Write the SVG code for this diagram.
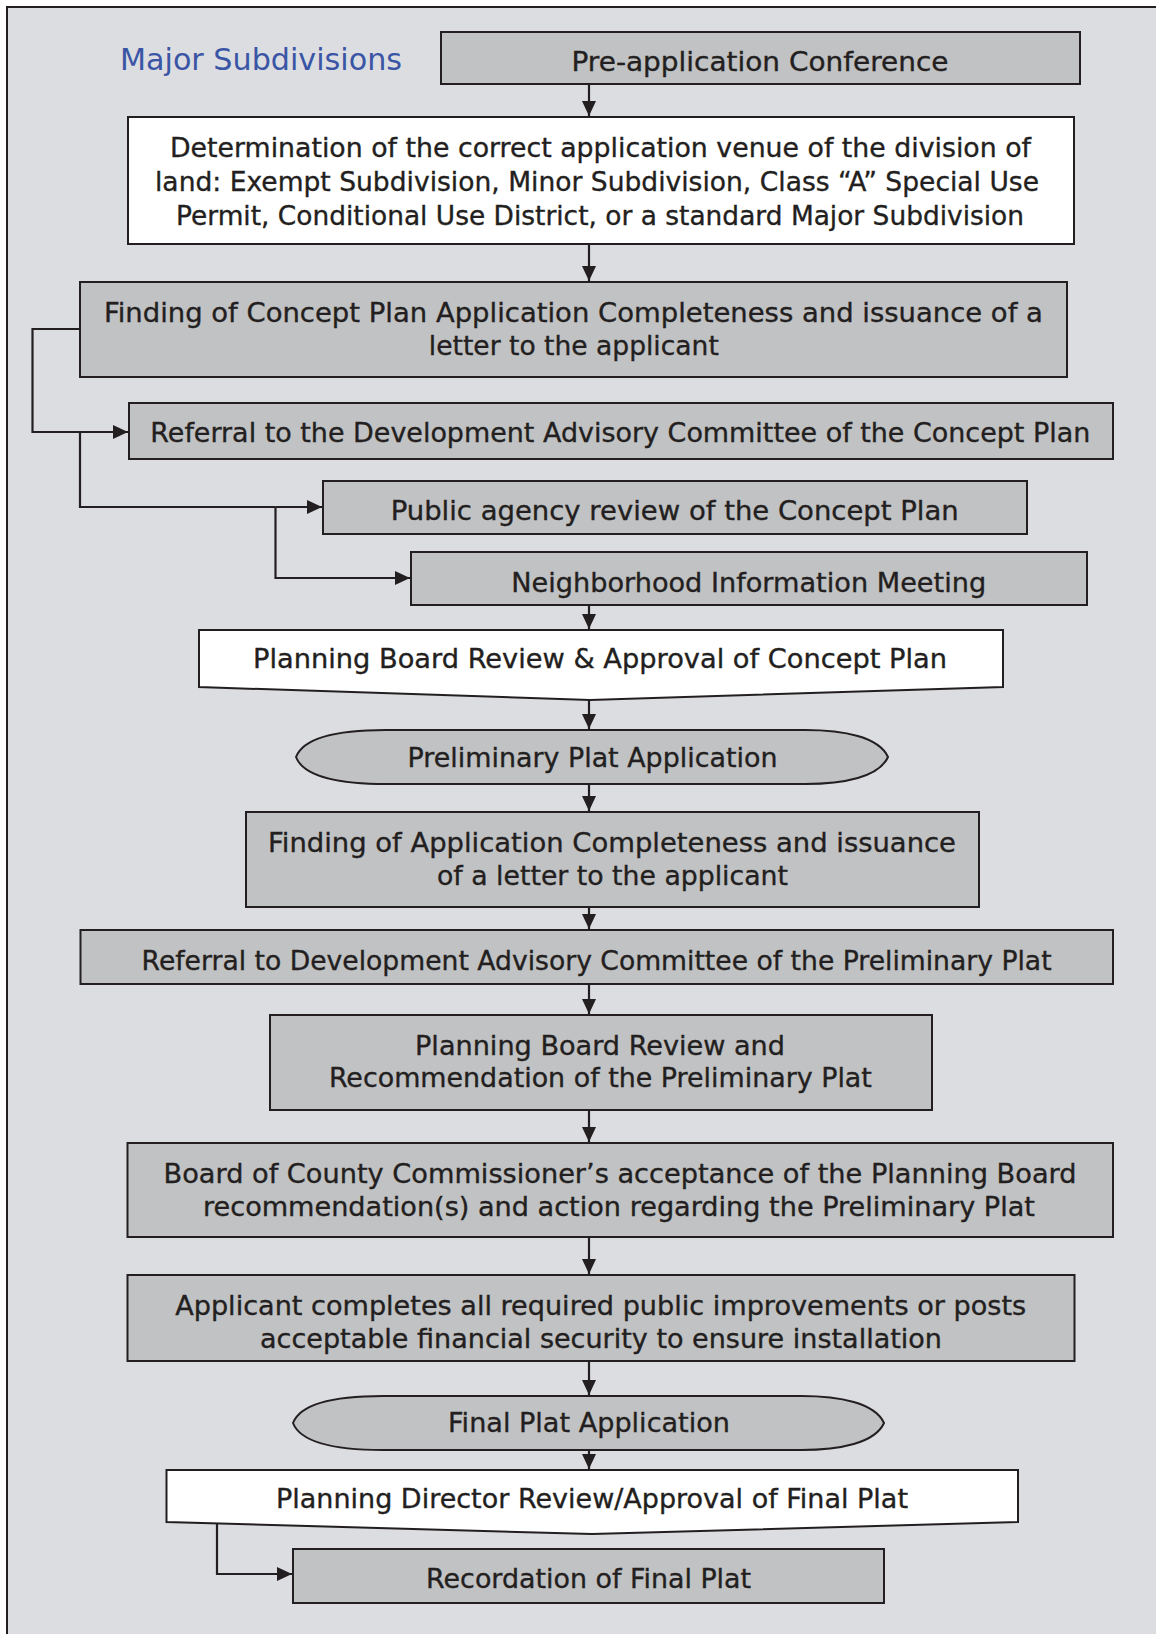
<svg xmlns="http://www.w3.org/2000/svg" width="1156" height="1634" viewBox="0 0 1156 1634">
<defs>
<marker id="ah" markerUnits="userSpaceOnUse" markerWidth="16" markerHeight="14" refX="15" refY="7" orient="auto">
<path d="M0,0 L15,7 L0,14 Z" fill="#231f20"/>
</marker>
<style>
.box{fill:#c1c2c4;stroke:#231f20;stroke-width:2}
.wbox{fill:#ffffff;stroke:#231f20;stroke-width:2}
.t{font-family:"DejaVu Sans","Liberation Sans",sans-serif;font-size:26px;fill:#231f20;stroke:#231f20;stroke-width:0.35;text-anchor:middle}
.title{font-family:"DejaVu Sans","Liberation Sans",sans-serif;font-size:30px;fill:#3a55a5}
.c{fill:none;stroke:#231f20;stroke-width:2.2}
.ca{fill:none;stroke:#231f20;stroke-width:2.2;marker-end:url(#ah)}
</style>
</defs>
<rect x="0" y="0" width="1156" height="1634" fill="#ffffff"/>
<rect x="7" y="7" width="1200" height="1700" fill="#dcdde0" stroke="#231f20" stroke-width="2"/>
<text class="title" x="120" y="70" textLength="282" lengthAdjust="spacingAndGlyphs">Major Subdivisions</text>

<g id="connectors">
<path class="ca" d="M589,84 V116"/>
<path class="ca" d="M589,244 V281"/>
<path class="c" d="M80,329 H32.5 V432 H80"/>
<path class="ca" d="M80,432 H128"/>
<path class="c" d="M80,432 V507 H275.5"/>
<path class="ca" d="M275.5,507 H322"/>
<path class="ca" d="M275.5,507 V578 H410"/>
<path class="ca" d="M589,605 V629"/>
<path class="ca" d="M589,700 V729"/>
<path class="ca" d="M589,784 V811"/>
<path class="ca" d="M589,907 V929"/>
<path class="ca" d="M589,984 V1014"/>
<path class="ca" d="M589,1110 V1142"/>
<path class="ca" d="M589,1237 V1274"/>
<path class="ca" d="M589,1361 V1395"/>
<path class="ca" d="M589,1450 V1469"/>
<path class="ca" d="M217,1523 V1574 H292"/>
</g>

<g id="pre-application">
<rect class="box" x="441" y="32" width="639" height="52"/>
<text class="t" x="760" y="71" textLength="377" lengthAdjust="spacingAndGlyphs">Pre-application Conference</text>
</g>
<g id="determination">
<rect class="wbox" x="128" y="117" width="946" height="127"/>
<text class="t" x="600.5" y="157" textLength="861" lengthAdjust="spacingAndGlyphs">Determination of the correct application venue of the division of</text>
<text class="t" x="597" y="191" textLength="884" lengthAdjust="spacingAndGlyphs">land: Exempt Subdivision, Minor Subdivision, Class “A” Special Use</text>
<text class="t" x="600" y="225" textLength="848" lengthAdjust="spacingAndGlyphs">Permit, Conditional Use District, or a standard Major Subdivision</text>
</g>
<g id="finding-concept">
<rect class="box" x="80" y="282" width="987" height="95"/>
<text class="t" x="573.4" y="322" textLength="939" lengthAdjust="spacingAndGlyphs">Finding of Concept Plan Application Completeness and issuance of a</text>
<text class="t" x="573.8" y="355" textLength="290" lengthAdjust="spacingAndGlyphs">letter to the applicant</text>
</g>
<g id="referral-concept">
<rect class="box" x="129" y="403" width="984" height="56"/>
<text class="t" x="620.3" y="442" textLength="940" lengthAdjust="spacingAndGlyphs">Referral to the Development Advisory Committee of the Concept Plan</text>
</g>
<g id="public-agency">
<rect class="box" x="323" y="481" width="704" height="53"/>
<text class="t" x="674.7" y="520" textLength="568" lengthAdjust="spacingAndGlyphs">Public agency review of the Concept Plan</text>
</g>
<g id="neighborhood">
<rect class="box" x="411" y="552" width="676" height="53"/>
<text class="t" x="748.7" y="592" textLength="475" lengthAdjust="spacingAndGlyphs">Neighborhood Information Meeting</text>
</g>
<g id="pb-approval-concept">
<path class="wbox" d="M199,630 H1003 V687 L590,700 L199,687 Z"/>
<text class="t" x="600" y="668" textLength="694" lengthAdjust="spacingAndGlyphs">Planning Board Review &amp; Approval of Concept Plan</text>
</g>
<g id="preliminary-application">
<path class="box" d="M296,757 C303,739 333,730 386,730 L805,730 C844,730 879,737 888,757 C879,777 844,784 805,784 L386,784 C333,784 303,775 296,757 Z"/>
<text class="t" x="592.5" y="767" textLength="370" lengthAdjust="spacingAndGlyphs">Preliminary Plat Application</text>
</g>
<g id="finding-application">
<rect class="box" x="246" y="812" width="733" height="95"/>
<text class="t" x="612" y="852" textLength="688" lengthAdjust="spacingAndGlyphs">Finding of Application Completeness and issuance</text>
<text class="t" x="612.5" y="885" textLength="351" lengthAdjust="spacingAndGlyphs">of a letter to the applicant</text>
</g>
<g id="referral-preliminary">
<rect class="box" x="80.5" y="930" width="1032.5" height="54"/>
<text class="t" x="596.6" y="970" textLength="910" lengthAdjust="spacingAndGlyphs">Referral to Development Advisory Committee of the Preliminary Plat</text>
</g>
<g id="pb-recommendation">
<rect class="box" x="270" y="1015" width="662" height="95"/>
<text class="t" x="600" y="1055" textLength="370" lengthAdjust="spacingAndGlyphs">Planning Board Review and</text>
<text class="t" x="600.4" y="1087" textLength="543" lengthAdjust="spacingAndGlyphs">Recommendation of the Preliminary Plat</text>
</g>
<g id="board-commissioners">
<rect class="box" x="127.5" y="1143" width="985.5" height="94"/>
<text class="t" x="620" y="1183" textLength="913" lengthAdjust="spacingAndGlyphs">Board of County Commissioner’s acceptance of the Planning Board</text>
<text class="t" x="619" y="1216" textLength="832" lengthAdjust="spacingAndGlyphs">recommendation(s) and action regarding the Preliminary Plat</text>
</g>
<g id="applicant-improvements">
<rect class="box" x="127.5" y="1275" width="947" height="86"/>
<text class="t" x="600.7" y="1315" textLength="851" lengthAdjust="spacingAndGlyphs">Applicant completes all required public improvements or posts</text>
<text class="t" x="601" y="1348" textLength="682" lengthAdjust="spacingAndGlyphs">acceptable financial security to ensure installation</text>
</g>
<g id="final-application">
<path class="box" d="M293,1423 C300,1405 330,1396 383,1396 L801,1396 C840,1396 875,1403 884,1423 C875,1443 840,1450 801,1450 L383,1450 C330,1450 300,1441 293,1423 Z"/>
<text class="t" x="589" y="1432" textLength="282" lengthAdjust="spacingAndGlyphs">Final Plat Application</text>
</g>
<g id="director-approval">
<path class="wbox" d="M166.5,1470 H1018 V1522 L592,1534 L166.5,1522 Z"/>
<text class="t" x="592" y="1508" textLength="632" lengthAdjust="spacingAndGlyphs">Planning Director Review/Approval of Final Plat</text>
</g>
<g id="recordation">
<rect class="box" x="293" y="1549" width="591" height="54"/>
<text class="t" x="588.6" y="1588" textLength="325" lengthAdjust="spacingAndGlyphs">Recordation of Final Plat</text>
</g>
</svg>
